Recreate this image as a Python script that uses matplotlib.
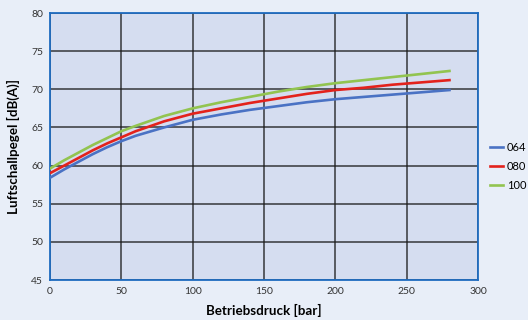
import matplotlib.pyplot as plt

# Betriebsdruck [bar]
druck = [0, 10, 20, 30, 40, 50, 60, 80, 100, 120, 140, 160, 180, 200, 220, 240, 260, 280]
# Luftschallpegel [dB(A)] per Baugroesse
pegel_064 = [58.4, 59.5, 60.5, 61.5, 62.4, 63.2, 63.9, 65.0, 66.0, 66.7, 67.3, 67.8, 68.3, 68.7, 69.0, 69.3, 69.6, 69.9]
pegel_080 = [59.0, 60.0, 61.0, 62.0, 62.9, 63.7, 64.5, 65.8, 66.8, 67.5, 68.2, 68.8, 69.4, 69.9, 70.2, 70.6, 70.9, 71.2]
pegel_100 = [59.6, 60.7, 61.7, 62.7, 63.6, 64.5, 65.2, 66.5, 67.5, 68.3, 69.0, 69.7, 70.3, 70.8, 71.2, 71.6, 72.0, 72.4]
labels = ["064", "080", "100"]

plt.rcParams['font.family'] = ['Lato', 'DejaVu Sans']

fig = plt.figure(figsize=(5.28, 3.2), dpi=100)
fig.patch.set_facecolor('#e8eef8')
ax = fig.add_axes([50/528, 1-280/320, 428/528, 267/320])
ax.set_facecolor('#d5ddf0')

ax.plot(druck, pegel_064, color='#4a72c4', lw=1.9, label=labels[0], zorder=3)
ax.plot(druck, pegel_080, color='#e3221c', lw=1.9, label=labels[1], zorder=3)
ax.plot(druck, pegel_100, color='#92c450', lw=1.9, label=labels[2], zorder=3)

ax.set_xlim(0, 300)
ax.set_ylim(45, 80)
ax.set_xticks(range(0, 301, 50))
ax.set_yticks(range(45, 81, 5))
ax.grid(True, color='#1a1a1a', lw=1.1, alpha=0.85)
ax.tick_params(length=0, labelsize=7.5, labelcolor='#333333', pad=5)
for s in ax.spines.values():
    s.set_color('#1f6cc0')
    s.set_linewidth(1.3)

ax.set_xlabel('Betriebsdruck [bar]', fontsize=9.6, fontweight='bold', labelpad=6)
ax.set_ylabel('Luftschallpegel [dB(A)]', fontsize=9.6, fontweight='bold', labelpad=8)

fig.legend(loc='upper left', bbox_to_anchor=(490/528, 1-142/320), frameon=False,
           fontsize=8, handlelength=1.2, handletextpad=0.3, labelspacing=0.7,
           borderaxespad=0, borderpad=0)

fig.savefig('out.png', dpi=100, facecolor=fig.get_facecolor())
